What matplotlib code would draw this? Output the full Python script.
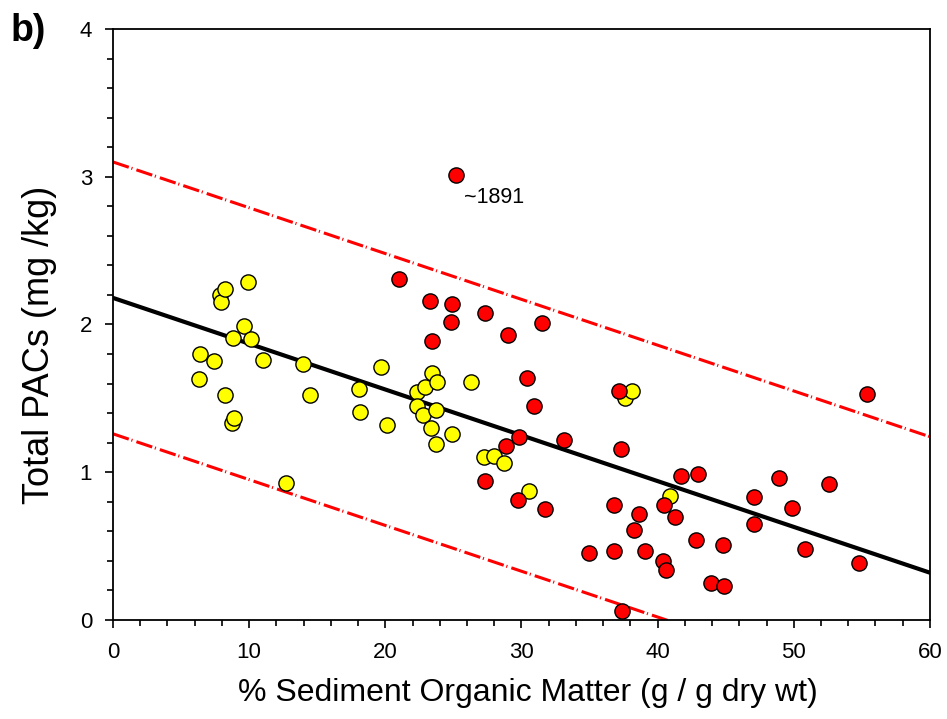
import numpy as np
import matplotlib.pyplot as plt
from matplotlib.ticker import MultipleLocator

plt.rcParams['font.family'] = ['Liberation Sans', 'DejaVu Sans']
plt.rcParams['lines.scale_dashes'] = False

# yellow samples (% organic matter, total PACs)
yellow_x = [6.3, 6.4, 7.4, 7.85, 7.9, 8.2, 8.2, 8.75, 8.9, 8.8, 9.6, 9.9, 10.1, 11.0,
            12.7, 13.95, 14.5, 18.05, 18.15, 19.7, 20.1, 22.3, 22.35, 22.8, 22.9, 23.35,
            23.45, 23.75, 23.75, 23.8, 24.9, 26.3, 27.25, 28.0, 28.75, 30.55, 37.6, 38.1, 40.9]
yellow_y = [1.63, 1.80, 1.75, 2.20, 2.15, 2.24, 1.52, 1.33, 1.37, 1.91, 1.99, 2.29, 1.90, 1.76,
            0.93, 1.73, 1.52, 1.56, 1.41, 1.71, 1.32, 1.54, 1.45, 1.39, 1.58, 1.30,
            1.67, 1.42, 1.19, 1.61, 1.26, 1.61, 1.10, 1.11, 1.06, 0.87, 1.50, 1.55, 0.84]

# red samples
red_x = [21.0, 23.3, 23.4, 24.8, 24.9, 25.2, 27.3, 27.35, 28.85, 29.0, 29.75, 29.8, 30.4,
         30.9, 31.5, 31.7, 33.1, 34.95, 36.8, 36.8, 37.15, 37.3, 37.35, 38.25, 38.65, 39.1,
         40.4, 40.5, 40.65, 41.3, 41.7, 42.8, 43.0, 43.9, 44.8, 44.9, 47.05, 47.1, 48.9,
         49.85, 50.85, 52.6, 54.8, 55.4]
red_y = [2.31, 2.16, 1.89, 2.02, 2.14, 3.01, 2.08, 0.94, 1.18, 1.93, 0.81, 1.24, 1.64,
         1.45, 2.01, 0.75, 1.22, 0.455, 0.78, 0.47, 1.55, 1.16, 0.06, 0.61, 0.72, 0.47,
         0.40, 0.78, 0.34, 0.70, 0.975, 0.54, 0.99, 0.25, 0.51, 0.23, 0.83, 0.65, 0.96,
         0.755, 0.48, 0.92, 0.385, 1.53]

# regression line and prediction band
fit_intercept = 2.18
fit_slope = -0.031
band = 0.92

fig = plt.figure(figsize=(9.47, 7.19), dpi=100)
ax = fig.add_axes([0.1193, 0.1377, 0.8627, 0.822])

xs = np.array([0, 60])
ax.plot(xs, fit_intercept + fit_slope * xs, color='black', lw=3, zorder=2)
for s in (band, -band):
    ax.plot(xs, fit_intercept + s + fit_slope * xs, color='red', lw=2.2,
            dashes=(12, 2, 0.8, 3), zorder=2)

ax.scatter(yellow_x, yellow_y, s=120, c='#FFFF00', edgecolors='black', linewidths=1, zorder=3)
ax.scatter(red_x, red_y, s=120, c='#FF0000', edgecolors='black', linewidths=1, zorder=4)

ax.text(25.75, 2.86, '~1891', fontsize=15.5, ha='left', va='center')

ax.set_xlim(0, 60)
ax.set_ylim(0, 4)
ax.xaxis.set_major_locator(MultipleLocator(10))
ax.xaxis.set_minor_locator(MultipleLocator(2))
ax.yaxis.set_major_locator(MultipleLocator(1))
ax.yaxis.set_minor_locator(MultipleLocator(0.2))
ax.tick_params(which='major', direction='out', length=6, width=1.2, labelsize=16)
ax.tick_params(which='minor', direction='out', length=4, width=1.2)
ax.tick_params(axis='x', which='major', pad=10)
ax.tick_params(axis='y', which='major', pad=9)
for sp in ax.spines.values():
    sp.set_linewidth(1.3)

ax.set_xlabel('% Sediment Organic Matter (g / g dry wt)', fontsize=23)
ax.set_ylabel('Total PACs (mg /kg)', fontsize=26)
ax.xaxis.set_label_coords(0.508, -0.098)
ax.yaxis.set_label_coords(-0.068, 0.465)

fig.text(0.011, 0.957, 'b)', fontsize=27, fontweight='bold', ha='left', va='center')

fig.savefig('out.png', dpi=100)
